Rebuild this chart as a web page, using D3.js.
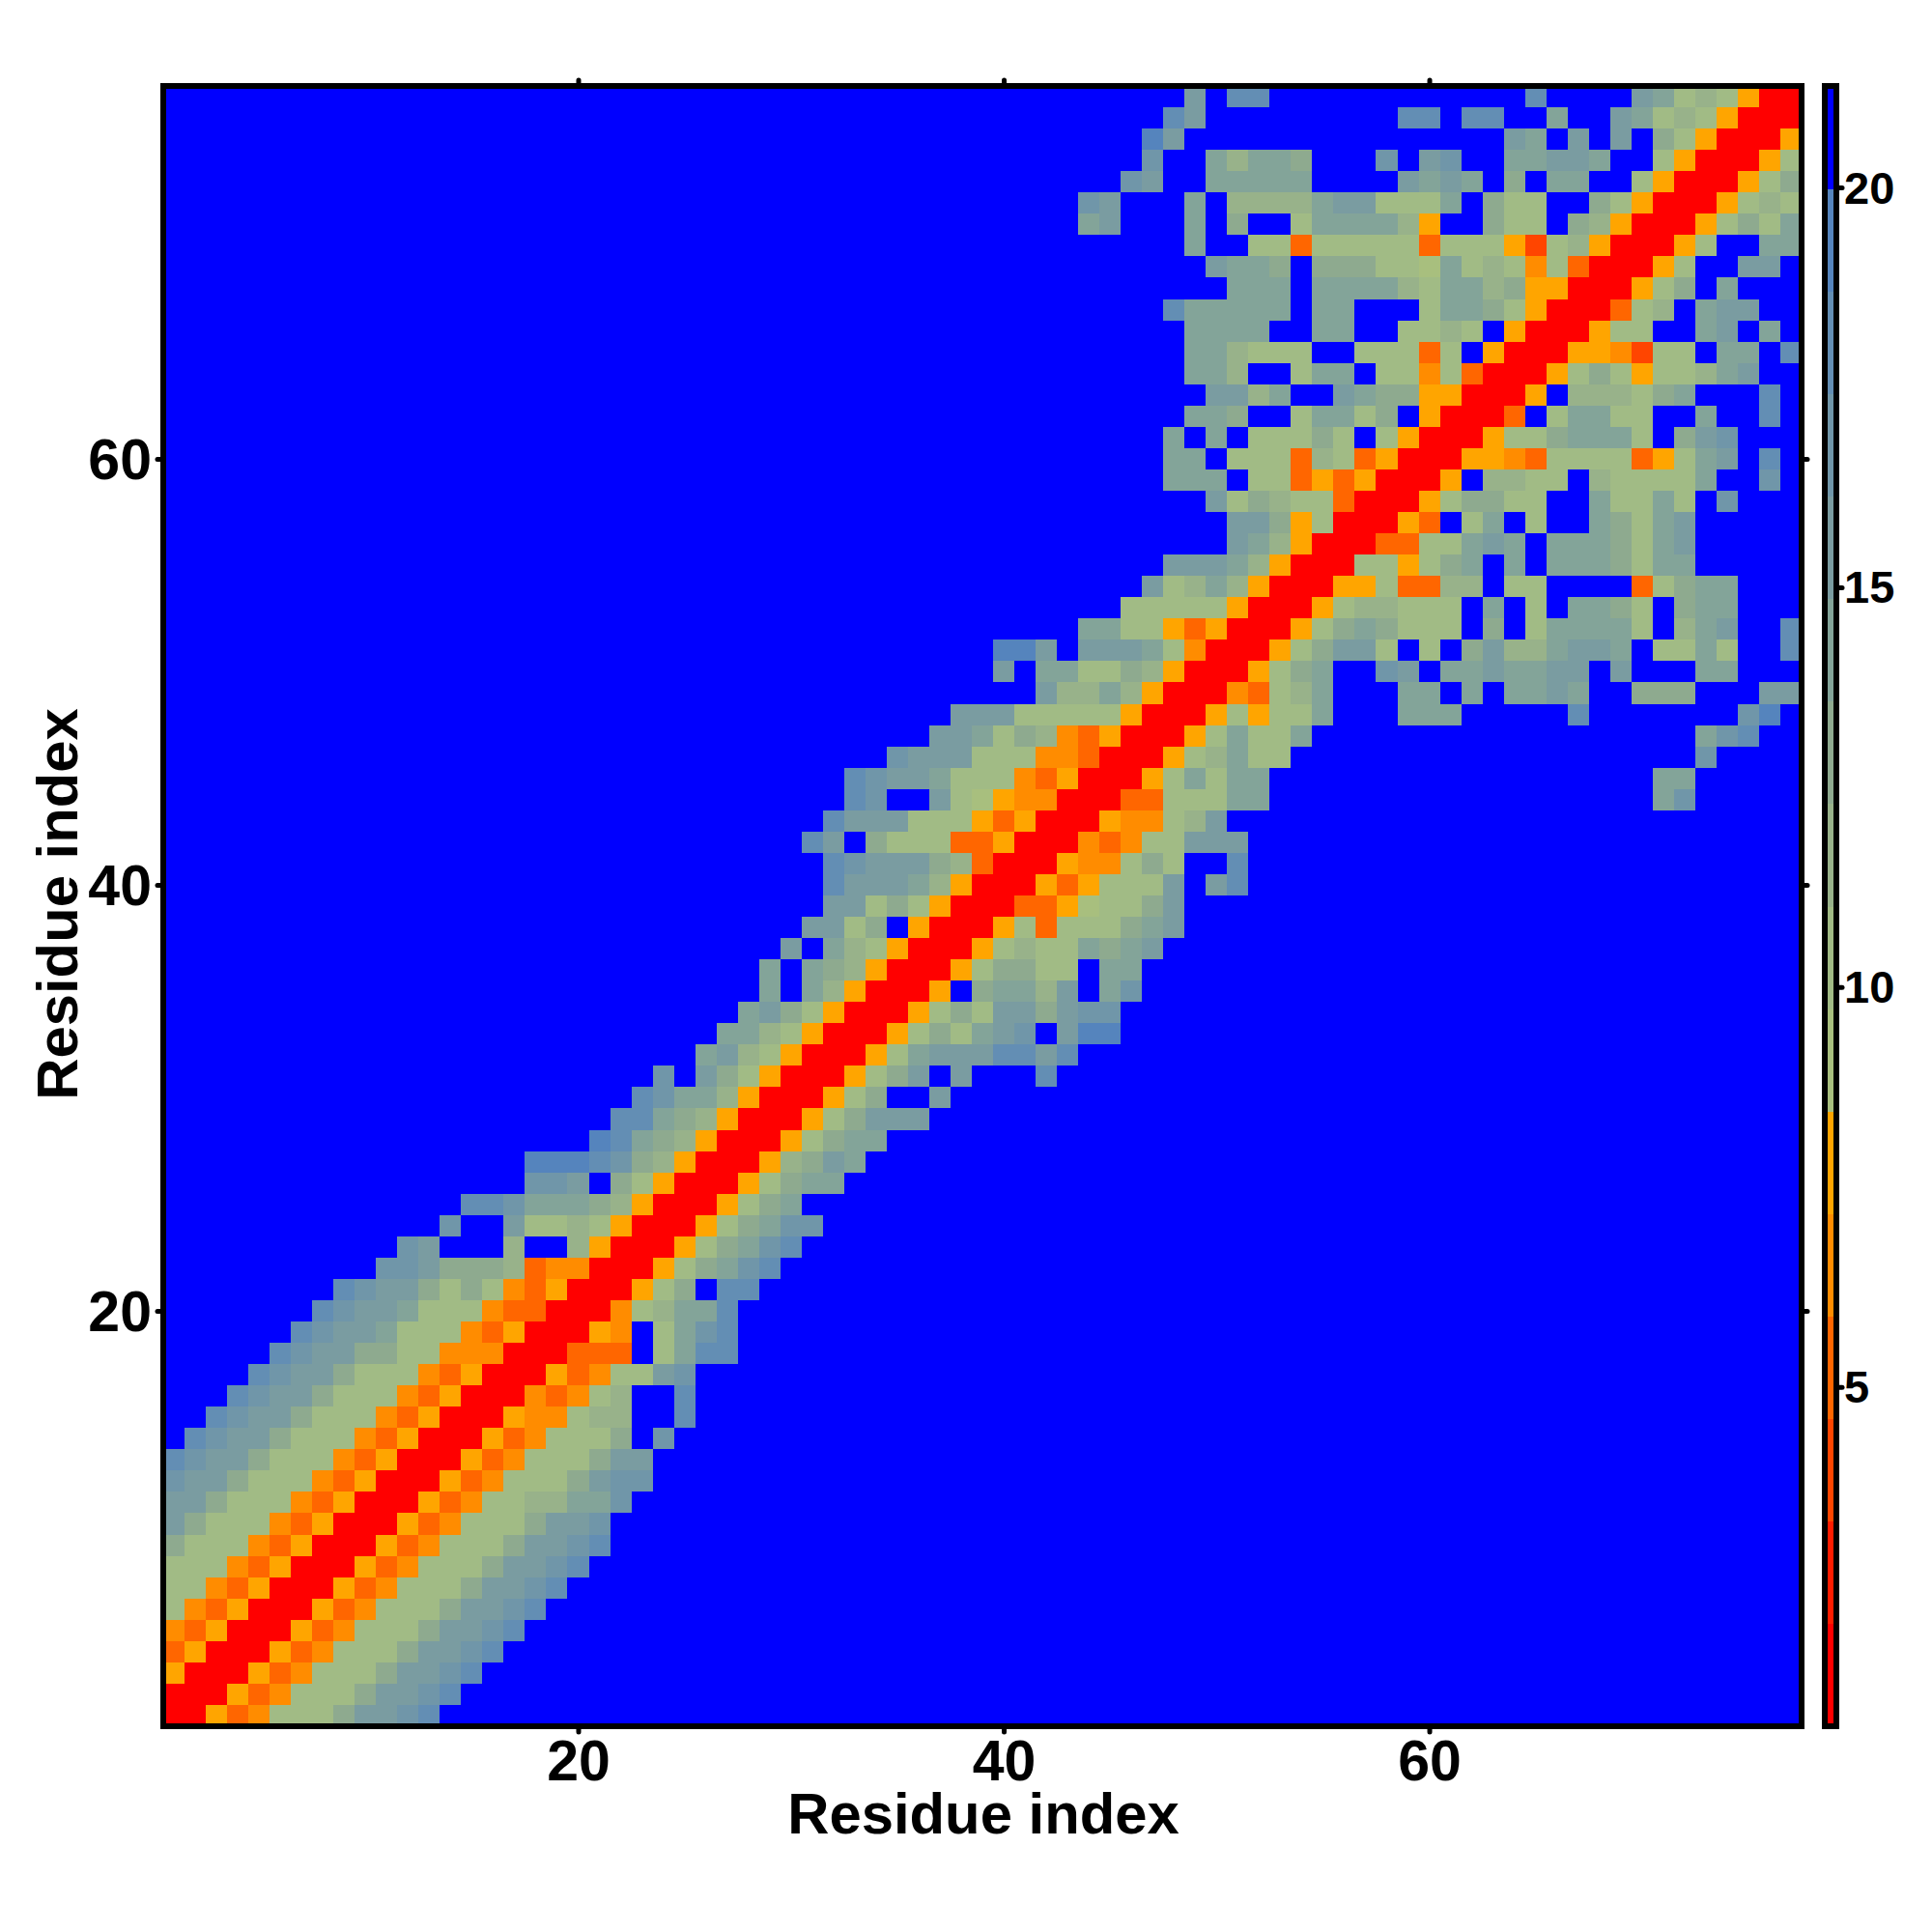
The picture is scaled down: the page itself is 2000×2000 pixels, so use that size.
<!DOCTYPE html>
<html><head><meta charset="utf-8">
<script src="https://cdn.jsdelivr.net/npm/d3@7"></script>
<style>html,body{margin:0;background:#fff}svg{display:block}text{font-family:"Liberation Sans",Arial,sans-serif;font-weight:bold;fill:#000}</style>
</head><body><svg id="c" width="2000" height="2000"></svg>
<script>
// Level colours, lowest distance band first (hex digit = index in this list)
const levelColors = ["#ff0000","#ff1c00","#ff4500","#ff6600","#ff8c00","#ffa500","#a8bf7e","#a1bb85","#98b28a","#8eaa8f","#83a499","#7a9ca1","#7096a9","#638eb4","#5584bd","#0000ff"];
const levelCodes = "0123456789abcdef".split("");
const residueCount = 77;
const axisTicks = [20,40,60];
const barTicks = [5,10,15,20];
const barRange = [0.756,21.27];
const axisTitle = "Residue index";
// One entry per row, top row (residue 77) first. "col:codes" runs; everything else is the far band f.
const matrixRows = [
"49:b 51:dd 65:d 70:ba787500",
"48:db 59:dd 62:dd 66:a 69:ba7875000",
"47:eb 64:ba 67:b 69:b 71:9750005",
"47:c 50:a8aa9 58:c 60:bc 64:aabba 71:7500057",
"46:cb 50:aaaaa 59:baba 64:9 66:aa 70:75000579",
"44:cb 49:a 51:8888abb777a 63:977 68:9750005787",
"44:ab 49:a 51:9 54:7aaaa85 63:977 67:9850005797a",
"49:a 52:7737777737775278500057 76:aa",
"50:baa9 55:999776a78747300057 75:bb",
"51:aaa 55:aaaa87aa8955000579 74:a",
"48:daaaaa 55:aa 60:7aa975000378 73:abb",
"49:aaaa 55:aa 59:7787 64:5000577 73:ab 76:a",
"49:aa8777 57:77737 63:5000554277 74:aa 77:d",
"49:aa8 54:7aa 58:7747300057975778ab",
"50:bb8a 56:ba99 60:550005 67:88879a 76:d",
"49:aa9 54:7aa79 60:50003 66:7aa77 73:a 76:d",
"48:a 50:a 52:77797 58:750005779aaa7 72:9bc",
"48:aa 51:7773873500055437777357ab 76:d",
"48:aaa 52:7735350005 63:8877 68:87777a 76:c",
"50:b798773000579977 68:a77a7 74:c",
"51:bb95700053 62:7a 65:7 68:a97ab",
"51:ba850003377aba 66:aaa97ab",
"48:bbba8500077579a 64:a 66:aaa97aa",
"47:b78a850005573388 64:77 70:379aa",
"46:7777750005788777 63:a 65:7 67:aa97 72:9aa",
"44:aa77535000579a9777 63:9 65:7aaaa7 72:8ab 77:d",
"40:eeb 44:bbba74000579bb7 60:7 62:9b88abba 71:77a7 77:d",
"40:b 42:aa 44:77985000579a 58:cb 61:aabaabb 69:b 73:aa",
"42:b88a850004378a 59:aa 62:a 64:aaba 70:999 76:bb",
"38:bbb77777500057577a 59:aaa 67:d 75:ce",
"37:bba79843500057a77a 73:acd",
"35:cbbb777443000578a77 73:c",
"33:dcbba77743500057a7aa 71:aa",
"33:dc 37:b7654400033777aa 71:ac",
"32:dbbb77753500054478b",
"31:db 34:977733500043477bbb",
"32:dcbbb983000544797 51:d",
"32:dbbba85000535777b 50:bd",
"32:bb79750003356779b",
"31:bb79 36:50005737779ab",
"30:b 32:a87500057877a9ab",
"29:a 31:a985000579977 45:aa",
"29:a 31:a850005 39:9aa8b 45:ac",
"28:ab9750005797bb9bcc",
"27:aa8750005797abc 43:bee",
"26:ab87500057abbbddbd",
"24:c 26:b975000579b 38:b 42:d",
"23:dcaa85000579 37:b",
"22:dda985000579bbb",
"21:eda985000579aa",
"18:eeedc985000589ba",
"18:ccb 22:975000579aa",
"15:ddcaaa985000579a",
"14:c 17:b77875000579acc",
"12:cb 17:8 20:85000579acd",
"11:ccb9998344000579acd",
"9:dcbb9797435000579 27:dd",
"8:dcbba777433000478aad",
"7:dcbba77743500054 24:7acd",
"6:dcbb9977444000333 24:7add",
"5:dcbb977743500053477bc",
"4:dcbb977743500043478 25:d",
"3:dcbb9777435000544788 25:d",
"2:dcbb97774350005347779 24:c",
"1:dcbb97774350005347779bb",
"1:cbb97774350005347779bcc",
"1:bb97774350005347788aac",
"1:b97774350005347779bbc",
"1:97774350005347779bbcd",
"1:7774350005347779bbcd",
"1:774350005347779bbcd",
"1:74350005347779bbcd",
"1:4350005347779bbcd",
"1:350005347779bbcd",
"1:50005347779bbcd",
"1:0005347779bbcd",
"1:005347779bbcd"
];

const svg = d3.select("#c");
const frame = {l:169, r:1865, t:89, b:1787};
const bar = {l:1889, r:1901};
const x = d3.scaleLinear().domain([0.5,residueCount+0.5]).range([frame.l,frame.r]);
const y = d3.scaleLinear().domain([0.5,residueCount+0.5]).range([frame.b,frame.t]);
const color = d3.scaleOrdinal(levelCodes, levelColors);
const barY = d3.scaleLinear().domain(barRange).range([frame.b,frame.t]);

const cells = [];
matrixRows.forEach((row,i) => {
  const residue = residueCount - i;
  const codes = d3.range(residueCount).map(() => "f");
  row.split(" ").forEach(seg => {
    const [start,run] = seg.split(":");
    run.split("").forEach((c,k) => { codes[+start-1+k] = c; });
  });
  codes.forEach((c,k) => cells.push({col:k+1,row:residue,code:c}));
});

svg.append("g").attr("shape-rendering","crispEdges").selectAll("rect").data(cells).join("rect")
  .attr("x",d => x(d.col-0.5)).attr("y",d => y(d.row+0.5))
  .attr("width",d => x(d.col+0.5)-x(d.col-0.5)+0.5)
  .attr("height",d => y(d.row-0.5)-y(d.row+0.5)+0.5)
  .attr("fill",d => color(d.code));

const step = (barRange[1]-barRange[0])/levelColors.length;
svg.append("g").attr("shape-rendering","crispEdges").selectAll("rect").data(levelCodes).join("rect")
  .attr("x",bar.l).attr("width",bar.r-bar.l)
  .attr("y",(d,i) => barY(barRange[0]+(i+1)*step))
  .attr("height",(d,i) => barY(barRange[0]+i*step)-barY(barRange[0]+(i+1)*step)+0.5)
  .attr("fill",d => color(d));

function styleAxis(g,size){
  g.select(".domain").remove();
  g.selectAll(".tick line").attr("stroke","#000").attr("stroke-width",5).attr("stroke-linecap","round");
  g.selectAll(".tick text").attr("font-size",size);
}
const tickLen = 6;
svg.append("g").attr("transform",`translate(0,${frame.b})`)
  .call(d3.axisBottom(x).tickValues(axisTicks).tickSize(tickLen).tickFormat(d3.format("d")))
  .call(g => styleAxis(g,59)).call(g => g.selectAll("text").attr("y",56).attr("dy",0));
svg.append("g").attr("transform",`translate(${frame.l},0)`)
  .call(d3.axisLeft(y).tickValues(axisTicks).tickSize(tickLen).tickFormat(d3.format("d")))
  .call(g => styleAxis(g,59)).call(g => g.selectAll("text").attr("x",-12).attr("dy",21));
svg.append("g").attr("transform",`translate(0,${frame.t})`)
  .call(d3.axisTop(x).tickValues(axisTicks).tickSize(tickLen).tickFormat(""))
  .call(g => styleAxis(g,59));
svg.append("g").attr("transform",`translate(${frame.r},0)`)
  .call(d3.axisRight(y).tickValues(axisTicks).tickSize(tickLen).tickFormat(""))
  .call(g => styleAxis(g,59));
svg.append("g").attr("transform",`translate(${bar.r},0)`)
  .call(d3.axisRight(barY).tickValues(barTicks).tickSize(tickLen).tickFormat(d3.format("d")))
  .call(g => styleAxis(g,47)).call(g => g.selectAll("text").attr("x",8).attr("dy",16));

svg.append("rect").attr("x",frame.l).attr("y",frame.t).attr("width",frame.r-frame.l).attr("height",frame.b-frame.t)
  .attr("fill","none").attr("stroke","#000").attr("stroke-width",6);
svg.append("rect").attr("x",bar.l).attr("y",frame.t).attr("width",bar.r-bar.l).attr("height",frame.b-frame.t)
  .attr("fill","none").attr("stroke","#000").attr("stroke-width",6);

svg.append("text").attr("x",1018).attr("y",1898).attr("text-anchor","middle").attr("font-size",59.8).text(axisTitle);
svg.append("text").attr("transform","translate(80,936) rotate(-90)").attr("text-anchor","middle").attr("font-size",59.8).text(axisTitle);
</script></body></html>
